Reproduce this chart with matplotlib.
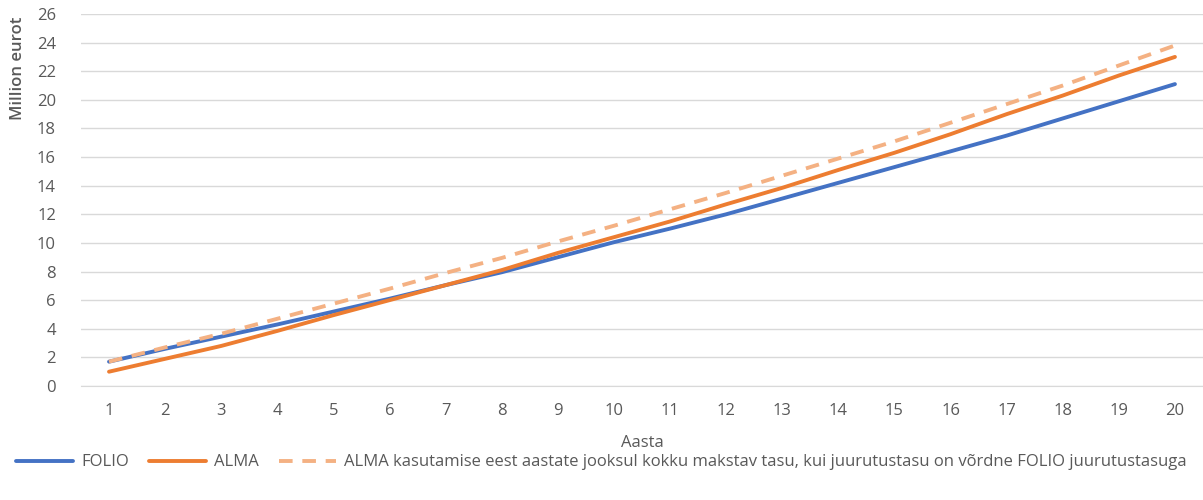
import matplotlib
matplotlib.use("Agg")
import matplotlib.pyplot as plt

years = list(range(1, 21))
folio = [1.7, 2.6, 3.45, 4.3, 5.2, 6.1, 7.05, 7.95, 9.0, 10.05, 11.0, 12.0, 13.1, 14.2, 15.3, 16.4, 17.5, 18.7, 19.9, 21.1]
alma = [1.0, 1.9, 2.8, 3.85, 4.95, 6.0, 7.05, 8.1, 9.3, 10.4, 11.5, 12.7, 13.85, 15.1, 16.3, 17.6, 19.0, 20.3, 21.7, 23.0]
alma_eq = [1.7, 2.7, 3.65, 4.7, 5.75, 6.8, 7.9, 8.95, 10.1, 11.2, 12.35, 13.5, 14.7, 15.9, 17.1, 18.4, 19.7, 21.0, 22.4, 23.8]
labels = ["FOLIO", "ALMA",
          "ALMA kasutamise eest aastate jooksul kokku makstav tasu, kui juurutustasu on võrdne FOLIO juurutustasuga"]
yticks = list(range(0, 27, 2))

plt.rcParams['font.family'] = ['Open Sans', 'DejaVu Sans']
txt = '#595959'

fig = plt.figure(figsize=(12.03, 5.0), dpi=100)
ax = fig.add_axes([0.0673, 0.228, 0.9327, 0.744])

ax.plot(years, folio, color='#4472C4', lw=2.8, label=labels[0], solid_capstyle='round')
ax.plot(years, alma, color='#ED7D31', lw=2.8, label=labels[1], solid_capstyle='round')
ax.plot(years, alma_eq, color='#F4B183', lw=2.8, ls=(0, (3.5, 2.5)), label=labels[2])

ax.set_xlim(0.5, 20.5)
ax.set_ylim(0, 26)
ax.set_yticks(yticks)
ax.set_xticks(years)
ax.grid(axis='y', color='#D9D9D9', lw=1)
ax.set_axisbelow(True)
for s in ['top', 'right', 'left']:
    ax.spines[s].set_visible(False)
ax.spines['bottom'].set_color('#D9D9D9')
ax.tick_params(axis='both', length=0, colors=txt, labelsize=12)
ax.tick_params(axis='y', pad=18)
ax.tick_params(axis='x', pad=12)
ax.set_xlabel('Aasta', color=txt, fontsize=12, labelpad=12)
fig.text(18 / 1203, 1 - 68 / 500, 'Million eurot', rotation=90, color=txt, fontsize=12,
         fontweight='semibold', ha='center', va='center')

fig.legend(loc='center', bbox_to_anchor=(0.5, 0.075), ncol=3, frameon=False,
           fontsize=12, labelcolor=txt, handlelength=3.4, columnspacing=1.2, handletextpad=0.5)

fig.savefig('out.png', dpi=100)
